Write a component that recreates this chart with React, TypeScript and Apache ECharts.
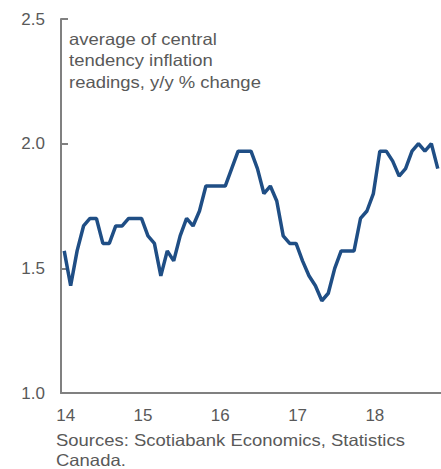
import React, { useEffect, useRef } from "react";
import * as echarts from "echarts";

const months: string[] = [];
for (let y = 2014; y <= 2018; y++) {
  for (let m = 1; m <= 12; m++) {
    if (y === 2018 && m > 11) break;
    months.push(`${y}-${String(m).padStart(2, "0")}`);
  }
}

const yearLabels = ["14", "15", "16", "17", "18"];

const inflation = [
  1.57, 1.43, 1.57, 1.67, 1.70, 1.70, 1.60, 1.60, 1.67, 1.67, 1.70, 1.70,
  1.70, 1.63, 1.60, 1.47, 1.57, 1.53, 1.63, 1.70, 1.67, 1.73, 1.83, 1.83,
  1.83, 1.83, 1.90, 1.97, 1.97, 1.97, 1.90, 1.80, 1.83, 1.77, 1.63, 1.60,
  1.60, 1.53, 1.47, 1.43, 1.37, 1.40, 1.50, 1.57, 1.57, 1.57, 1.70, 1.73,
  1.80, 1.97, 1.97, 1.93, 1.87, 1.90, 1.97, 2.00, 1.97, 2.00, 1.90,
];

const noteLines = ["average of central", "tendency inflation", "readings, y/y % change"];
const sourceLines = ["Sources: Scotiabank Economics, Statistics", "Canada."];

const FONT = "Liberation Sans, Arial, sans-serif";
const FS = 17;
const NOTE_FS = 16.5;
const TEXT = "#595959";
const AXIS = "#808080";

export default function App() {
  const ref = useRef<HTMLDivElement>(null);
  useEffect(() => {
    if (!ref.current) return;
    const chart = echarts.init(ref.current, undefined, { renderer: "svg" });
    chart.setOption({
      animation: false,
      backgroundColor: "#ffffff",
      grid: { left: 61, right: 0, top: 19, bottom: 76, containLabel: false },
      xAxis: {
        type: "category",
        data: months,
        boundaryGap: true,
        axisLine: { lineStyle: { color: AXIS, width: 2 } },
        axisTick: { interval: 11, length: 5, inside: false, lineStyle: { color: AXIS, width: 2 } },
        axisLabel: {
          interval: 11,
          margin: 14,
          color: TEXT,
          fontFamily: FONT,
          fontSize: FS,
          padding: [0, 0, 0, 3],
          formatter: (_v: string, i: number) => yearLabels[Math.floor(i / 12)] ?? "",
        },
        splitLine: { show: false },
      },
      yAxis: {
        type: "value",
        min: 1,
        max: 2.5,
        interval: 0.5,
        axisLine: { show: true, lineStyle: { color: AXIS, width: 2 } },
        axisTick: { show: true, inside: true, length: 7, lineStyle: { color: AXIS, width: 2 } },
        axisLabel: {
          margin: 16,
          color: TEXT,
          fontFamily: FONT,
          fontSize: FS,
          formatter: (v: number) => v.toFixed(1),
        },
        splitLine: { show: false },
      },
      series: [
        {
          type: "line",
          data: inflation,
          symbol: "none",
          lineStyle: { color: "#1f4e85", width: 3.5 },
        },
      ],
      graphic: [
        {
          type: "text",
          x: 69,
          y: 28.7,
          scaleX: 1.12,
          style: {
            text: noteLines.join("\n"),
            fill: TEXT,
            font: `${NOTE_FS}px ${FONT}`,
            lineHeight: 21.3,
            align: "left",
            verticalAlign: "top",
          },
        },
        {
          type: "text",
          x: 56,
          y: 431.8,
          scaleX: 1.12,
          style: {
            text: sourceLines[0],
            fill: TEXT,
            font: `${NOTE_FS}px ${FONT}`,
            lineHeight: NOTE_FS,
            align: "left",
            verticalAlign: "top",
          },
        },
        {
          type: "text",
          x: 56,
          y: 452.5,
          scaleX: 1.12,
          style: {
            text: sourceLines[1],
            fill: TEXT,
            font: `${NOTE_FS}px ${FONT}`,
            lineHeight: NOTE_FS,
            align: "left",
            verticalAlign: "top",
          },
        },
      ],
    });
    return () => chart.dispose();
  }, []);
  return (
    <div
      ref={ref}
      style={{ position: "fixed", left: 0, top: 0, width: 441, height: 469, background: "#fff" }}
    />
  );
}
